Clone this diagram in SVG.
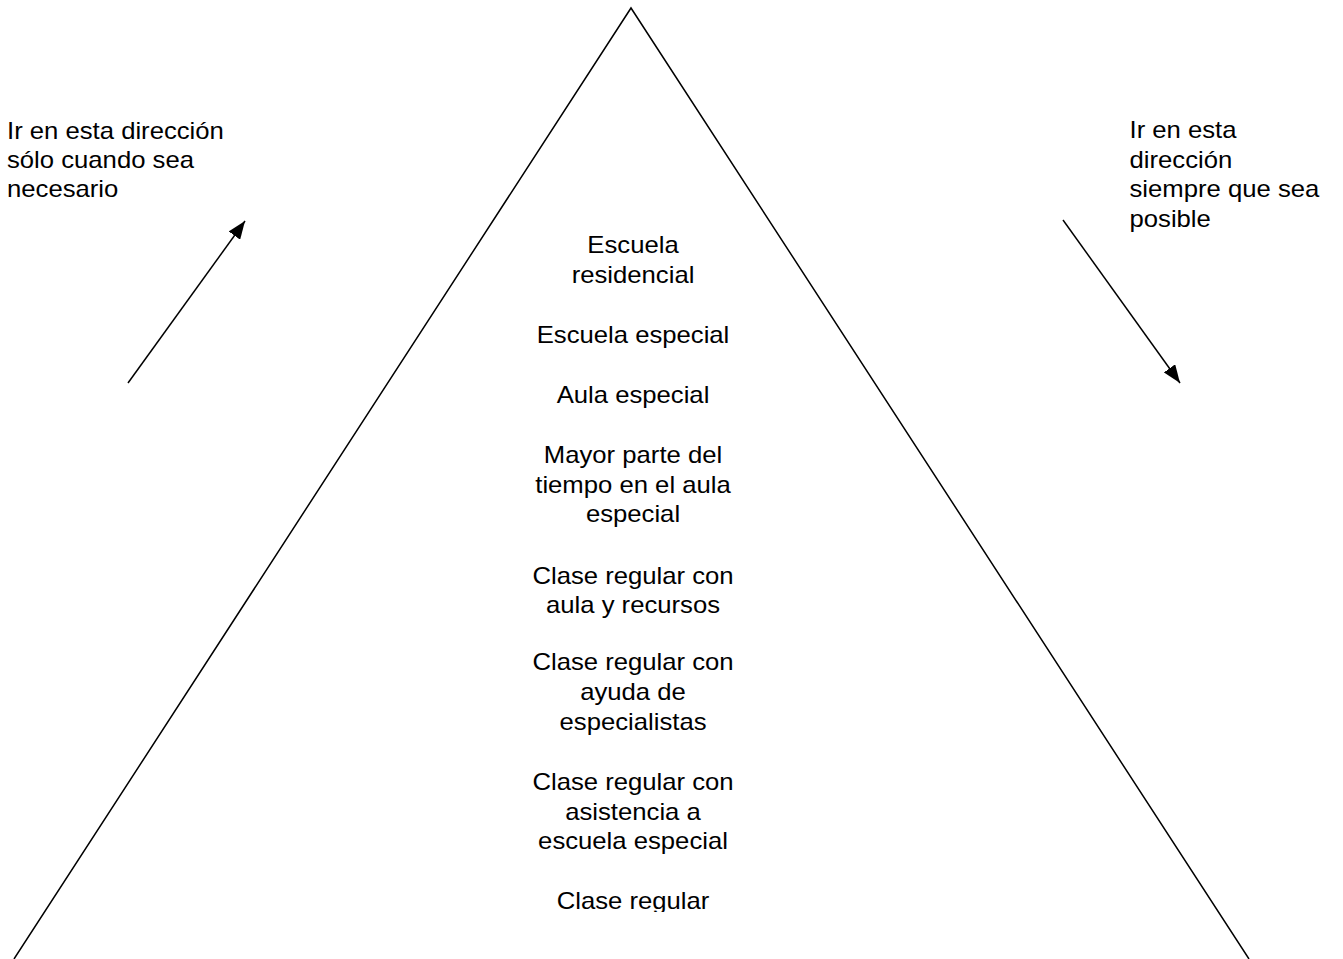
<svg xmlns="http://www.w3.org/2000/svg" width="1343" height="959" viewBox="0 0 1343 959">
<style>
.t{font-family:"Liberation Sans",Arial,sans-serif;font-size:24px;fill:#000}
.c{text-anchor:middle}
.ln{stroke:#000;stroke-width:1.5;fill:none}
</style>
<defs>
<marker id="ah" markerUnits="userSpaceOnUse" markerWidth="20" markerHeight="14" refX="18" refY="7" orient="auto">
<path d="M0,0 L18,7 L0,14 Z" fill="#000"/>
</marker>
<clipPath id="cut"><rect x="-700" y="0" width="1400" height="912"/></clipPath>
</defs>
<rect width="1343" height="959" fill="#fff"/>
<g id="pyramid">
<polyline class="ln" points="14,959 631,8 1249,959"/>
</g>
<g id="connectors">
<line class="ln" x1="128" y1="383" x2="245" y2="221" marker-end="url(#ah)"/>
<line class="ln" x1="1063" y1="220" x2="1180" y2="383" marker-end="url(#ah)"/>
</g>
<g id="label-left" transform="translate(7,0) scale(1.07,1)">
<text class="t" x="0" y="139">Ir en esta dirección</text>
<text class="t" x="0" y="168">sólo cuando sea</text>
<text class="t" x="0" y="197">necesario</text>
</g>
<g id="label-right" transform="translate(1129.5,0) scale(1.07,1)">
<text class="t" x="0" y="138">Ir en esta</text>
<text class="t" x="0" y="168">dirección</text>
<text class="t" x="0" y="197">siempre que sea</text>
<text class="t" x="0" y="227">posible</text>
</g>
<g id="levels" transform="translate(633,0) scale(1.07,1)">
<g id="level1"><text class="t c" x="0" y="253">Escuela</text><text class="t c" x="0" y="283">residencial</text></g>
<g id="level2"><text class="t c" x="0" y="343">Escuela especial</text></g>
<g id="level3"><text class="t c" x="0" y="403">Aula especial</text></g>
<g id="level4"><text class="t c" x="0" y="463">Mayor parte del</text><text class="t c" x="0" y="493">tiempo en el aula</text><text class="t c" x="0" y="522">especial</text></g>
<g id="level5"><text class="t c" x="0" y="584">Clase regular con</text><text class="t c" x="0" y="613">aula y recursos</text></g>
<g id="level6"><text class="t c" x="0" y="670">Clase regular con</text><text class="t c" x="0" y="700">ayuda de</text><text class="t c" x="0" y="730">especialistas</text></g>
<g id="level7"><text class="t c" x="0" y="790">Clase regular con</text><text class="t c" x="0" y="820">asistencia a</text><text class="t c" x="0" y="849">escuela especial</text></g>
<g id="level8" clip-path="url(#cut)"><text class="t c" x="0" y="909">Clase regular</text></g>
</g>
</svg>
